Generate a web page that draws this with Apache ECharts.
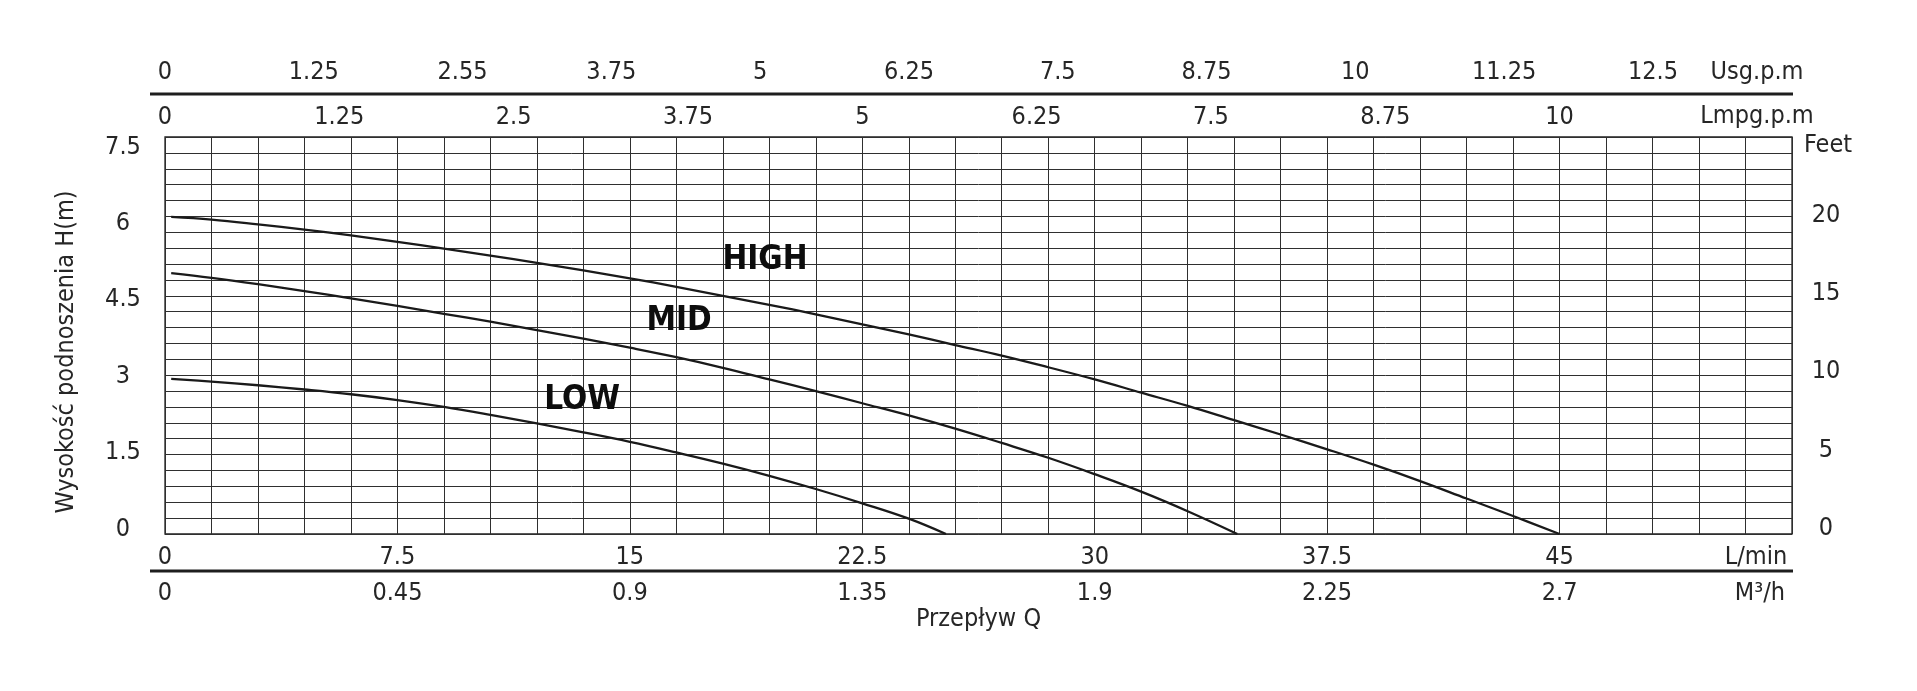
<!DOCTYPE html>
<html>
<head>
<meta charset="utf-8">
<title>Krzywa pompy</title>
<script src="https://cdn.jsdelivr.net/npm/echarts@6/dist/echarts.min.js"></script>
<style>
  html, body { margin: 0; padding: 0; background: #fff; }
  #main { width: 1917px; height: 691px; }
</style>
</head>
<body>
<div id="main"></div>
<script>
// tick labels of the axes
const flowTicks = [0, 7.5, 15, 22.5, 30, 37.5, 45]; // L/min
const m3hLabels = ["0", "0.45", "0.9", "1.35", "1.9", "2.25", "2.7"]; // M³/h, same places as L/min
const usgTicks = [0, 1.25, 2.5, 3.75, 5, 6.25, 7.5, 8.75, 10, 11.25, 12.5];
const usgLabels = ["0", "1.25", "2.55", "3.75", "5", "6.25", "7.5", "8.75", "10", "11.25", "12.5"];
const lmpgTicks = [0, 1.25, 2.5, 3.75, 5, 6.25, 7.5, 8.75, 10];
const headTicks = [0, 1.5, 3, 4.5, 6, 7.5]; // m
const feetTicks = [0, 5, 10, 15, 20];

// pump curves: flow L/min -> head m
const flowHigh = [0.2, 1.5, 3, 4.5, 6, 7.5, 9, 10.5, 12, 13.5, 15, 16.5, 18, 19.5, 21, 22.5, 24, 25.5, 27, 28.5, 30, 31.5, 33, 34.5, 36, 37.5, 39, 40.5, 42, 43.5, 45];
const headHigh = [5.99, 5.94, 5.85, 5.75, 5.64, 5.52, 5.39, 5.26, 5.12, 4.98, 4.83, 4.67, 4.50, 4.33, 4.15, 3.96, 3.77, 3.57, 3.37, 3.15, 2.92, 2.67, 2.42, 2.15, 1.88, 1.6, 1.31, 1.0, 0.67, 0.34, 0];
const flowMid = [0.2, 1.5, 3, 4.5, 6, 7.5, 9, 10.5, 12, 13.5, 15, 16.5, 18, 19.5, 21, 22.5, 24, 25.5, 27, 28.5, 30, 31.5, 33, 34.6];
const headMid = [4.93, 4.84, 4.72, 4.59, 4.45, 4.31, 4.16, 4.01, 3.85, 3.69, 3.52, 3.34, 3.14, 2.92, 2.70, 2.47, 2.24, 1.99, 1.72, 1.44, 1.13, 0.80, 0.43, 0];
const flowLow = [0.2, 1.5, 3, 4.5, 6, 7.5, 9, 10.5, 12, 13.5, 15, 16.5, 18, 19.5, 21, 22.5, 24, 25.2];
const headLow = [2.93, 2.88, 2.81, 2.73, 2.64, 2.53, 2.40, 2.25, 2.09, 1.92, 1.74, 1.54, 1.33, 1.10, 0.85, 0.58, 0.29, 0];

// curve names and where they sit
const curveNames = ["HIGH", "MID", "LOW"];
const nameFlow = [19.36, 16.59, 13.46];
const nameHead = [5.16, 4.02, 2.53];

const FONT = "'Liberation Sans Narrow', 'DejaVu Sans Condensed', 'Roboto Condensed', sans-serif";
const TXT = "#262626";
const GRID_LINE = "#2f2f2f";

function pairs(xs, ys) {
  return xs.map(function (x, i) { return [x, ys[i]]; });
}

function curve(name, xs, ys) {
  return {
    name: name,
    type: "line",
    xAxisIndex: 0,
    yAxisIndex: 0,
    showSymbol: false,
    smooth: 0.4,
    lineStyle: { color: "#1a1a1a", width: 2.3 },
    data: pairs(xs, ys),
  };
}

function numLabel(extra) {
  return Object.assign({ fontFamily: FONT, fontSize: 25, color: TXT }, extra);
}

function unitText(text, x, y) {
  return {
    type: "text", x: x, y: y,
    style: { text: text, font: "25px " + FONT, fill: TXT, textAlign: "center", textVerticalAlign: "middle" },
  };
}

var chart = echarts.init(document.getElementById("main"), null, { renderer: "canvas" });
chart.setOption({
  animation: false,
  backgroundColor: "#fff",
  grid: {
    left: 165, top: 137, width: 1627, height: 397,
    show: true, borderColor: "#222", borderWidth: 1.3,
  },
  xAxis: [
    { // L/min, carries the vertical grid lines
      type: "value", position: "bottom", min: 0, max: 52.5, interval: 1.5,
      axisLine: { show: false }, axisTick: { show: false },
      splitLine: { show: true, lineStyle: { color: GRID_LINE, width: 1 } },
      axisLabel: numLabel({ customValues: flowTicks, margin: 23, verticalAlign: "middle" }),
      name: "Przepływ Q", nameLocation: "middle", nameGap: 85,
      nameTextStyle: { fontFamily: FONT, fontSize: 25, color: TXT, verticalAlign: "middle" },
    },
    { // Lmpg.p.m
      type: "value", position: "top", offset: 0, min: 0, max: 52.5 / 4.5,
      axisLine: { show: false }, axisTick: { show: false }, splitLine: { show: false },
      axisLabel: numLabel({ customValues: lmpgTicks, margin: 20, verticalAlign: "middle" }),
    },
    { // Usg.p.m
      type: "value", position: "top", offset: 43, min: 0, max: 13.668,
      axisLine: { show: false }, axisTick: { show: false }, splitLine: { show: false },
      axisLabel: numLabel({
        customValues: usgTicks, margin: 22, verticalAlign: "middle",
        formatter: function (v) { return usgLabels[usgTicks.indexOf(v)]; },
      }),
    },
    { // M³/h
      type: "value", position: "bottom", offset: 37, min: 0, max: 52.5,
      axisLine: { show: false }, axisTick: { show: false }, splitLine: { show: false },
      axisLabel: numLabel({
        customValues: flowTicks, margin: 22, verticalAlign: "middle",
        formatter: function (v) { return m3hLabels[flowTicks.indexOf(v)]; },
      }),
    },
  ],
  yAxis: [
    { // head in m, carries the horizontal grid lines (25 cells)
      type: "value", position: "left", min: 0, max: 7.5, interval: 0.3,
      axisLine: { show: false }, axisTick: { show: false }, axisLabel: { show: false },
      splitLine: { show: true, lineStyle: { color: GRID_LINE, width: 1 } },
    },
    { // head labels, printed a little off the grid as in the sheet
      type: "value", position: "left", min: -0.095, max: 7.70,
      axisLine: { show: false }, axisTick: { show: false }, splitLine: { show: false },
      axisLabel: numLabel({ customValues: headTicks, margin: 42, align: "center" }),
    },
    { // feet
      type: "value", position: "right", min: -0.37, max: 25.03,
      axisLine: { show: false }, axisTick: { show: false }, splitLine: { show: false },
      axisLabel: numLabel({ customValues: feetTicks, margin: 34, align: "center" }),
    },
  ],
  graphic: [
    { type: "rect", shape: { x: 150, y: 92.5, width: 1643, height: 3 }, style: { fill: "#1e1e1e" } },
    { type: "rect", shape: { x: 150, y: 569.5, width: 1643, height: 3 }, style: { fill: "#1e1e1e" } },
    unitText("Usg.p.m", 1757, 72),
    unitText("Lmpg.p.m", 1757, 116),
    unitText("L/min", 1756, 557),
    unitText("M³/h", 1760, 593),
    unitText("Feet", 1828, 145),
    {
      type: "text", x: 66, y: 352, rotation: Math.PI / 2,
      style: { text: "Wysokość podnoszenia H(m)", font: "25px " + FONT, fill: TXT, textAlign: "center", textVerticalAlign: "middle" },
    },
  ],
  series: [
    curve("HIGH", flowHigh, headHigh),
    curve("MID", flowMid, headMid),
    curve("LOW", flowLow, headLow),
    {
      type: "scatter",
      xAxisIndex: 0,
      yAxisIndex: 0,
      symbolSize: 1,
      itemStyle: { color: "rgba(0,0,0,0)", opacity: 1 },
      label: {
        show: true, position: "inside", formatter: "{b}",
        fontFamily: FONT, fontSize: 33, fontWeight: "bold", color: "#0d0d0d", opacity: 1,
      },
      data: curveNames.map(function (n, i) { return { name: n, value: [nameFlow[i], nameHead[i]] }; }),
    },
  ],
});
</script>
</body>
</html>
